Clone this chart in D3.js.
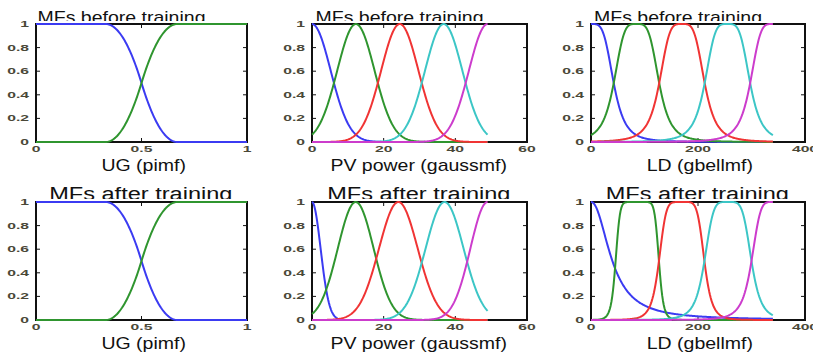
<!DOCTYPE html>
<html>
<head>
<meta charset="utf-8">
<script src="https://cdn.jsdelivr.net/npm/d3@7"></script>
<style>
  html, body { margin: 0; padding: 0; background: #fff; }
  svg { display: block; }
</style>
</head>
<body>
<svg id="chart" width="813" height="356"></svg>
<script>
// ---- chart data ----------------------------------------------------------
const mfColors = ["#3b3bf2", "#2f952f", "#f03434", "#3cc6c6", "#cc3ccc"];

const yTicks = [0, 0.2, 0.4, 0.6, 0.8, 1];
const yTickLabels = ["0", "0.2", "0.4", "0.6", "0.8", "1"];

const rowTitles = ["MFs before training", "MFs after training"];
const inputLabels = ["UG (pimf)", "PV power (gaussmf)", "LD (gbellmf)"];

// UG input: pimf [a b c d]
const ugAxis = [0, 1];
const ugRange = [0, 1];
const ugTicks = [0, 0.5, 1];
const ugTickLabels = ["0", "0.5", "1"];
const ugBefore = [[-0.67, -0.33, 0.33, 0.67], [0.33, 0.67, 1.33, 1.67]];
const ugAfter = [[-0.67, -0.33, 0.33, 0.67], [0.33, 0.67, 1.33, 1.67]];

// PV power input: gaussmf [sigma center]
const pvAxis = [0, 60];
const pvRange = [0, 49];
const pvTicks = [0, 20, 40, 60];
const pvTickLabels = ["0", "20", "40", "60"];
const pvBefore = [[5.2, 0], [5.2, 12.25], [5.2, 24.5], [5.2, 36.75], [5.2, 49]];
const pvAfter = [[2.4, 0], [5.0, 12.2], [5.4, 24.1], [5.3, 37.0], [4.8, 49]];

// LD input: gbellmf [a b c]
const ldAxis = [0, 400];
const ldRange = [0, 340];
const ldTicks = [0, 200, 400];
const ldTickLabels = ["0", "200", "400"];
const ldBefore = [[42.5, 2, 0], [42.5, 2, 85], [42.5, 2, 170], [42.5, 2, 255], [42.5, 2, 340]];
const ldAfter = [[40, 1.07, 0], [40.5, 4.8, 86.5], [42.5, 3, 169.5], [44, 2.45, 256], [40, 2.2, 340]];

// ---- membership functions ------------------------------------------------
function smf(x, a, b) {
  if (x <= a) return 0;
  if (x >= b) return 1;
  const m = (a + b) / 2;
  return x <= m ? 2 * Math.pow((x - a) / (b - a), 2) : 1 - 2 * Math.pow((x - b) / (b - a), 2);
}
function zmf(x, c, d) { return 1 - smf(x, c, d); }
const pimf = (x, p) => smf(x, p[0], p[1]) * zmf(x, p[2], p[3]);
const gaussmf = (x, p) => Math.exp(-Math.pow(x - p[1], 2) / (2 * p[0] * p[0]));
const gbellmf = (x, p) => 1 / (1 + Math.pow(Math.abs((x - p[2]) / p[0]), 2 * p[1]));

// ---- layout --------------------------------------------------------------
const cols = [
  { x0: 36, x1: 247, axis: ugAxis, range: ugRange, ticks: ugTicks, tickLabels: ugTickLabels,
    mf: pimf, sets: [ugBefore, ugAfter], labelX: 143.7 },
  { x0: 312, x1: 527, axis: pvAxis, range: pvRange, ticks: pvTicks, tickLabels: pvTickLabels,
    mf: gaussmf, sets: [pvBefore, pvAfter], labelX: 418.7 },
  { x0: 591, x1: 805, axis: ldAxis, range: ldRange, ticks: ldTicks, tickLabels: ldTickLabels,
    mf: gbellmf, sets: [ldBefore, ldAfter], labelX: 699.8 }
];
const rows = [
  { y0: 24, y1: 142, titleBase: 23.2, titleClip: 21, titleSize: 16, titleScale: 1.22, titleShift: -20 },
  { y0: 202, y1: 320, titleBase: 200, titleClip: 199, titleSize: 19, titleScale: 1.24, titleShift: -0.7 }
];

const svg = d3.select("#chart");
const font = "'Liberation Sans', Arial, Helvetica, sans-serif";
const tickColor = "#4a4838";
const tickLen = 4;

rows.forEach((row, ri) => {
  const clipId = "titleclip" + ri;
  svg.append("clipPath").attr("id", clipId)
    .append("rect").attr("x", 0).attr("y", row.y0 - 40).attr("width", 813).attr("height", row.titleClip - (row.y0 - 40));

  cols.forEach((col, ci) => {
    const x = d3.scaleLinear().domain(col.axis).range([col.x0, col.x1]);
    const y = d3.scaleLinear().domain([0, 1]).range([row.y1, row.y0]);
    const g = svg.append("g");

    // title (bottom edge hidden behind the axes band)
    const cx = (col.x0 + col.x1) / 2 + row.titleShift;
    g.append("text")
      .attr("clip-path", `url(#${clipId})`)
      .append("tspan")
      .attr("transform", null);
    g.select("text").remove();
    g.append("g").attr("clip-path", `url(#${clipId})`)
      .append("text")
      .attr("transform", `translate(${cx},${row.titleBase}) scale(${row.titleScale},1)`)
      .attr("text-anchor", "middle")
      .attr("font-family", font)
      .attr("font-size", row.titleSize)
      .attr("fill", "#111")
      .text(rowTitles[ri]);

    // axes box
    g.append("rect")
      .attr("x", col.x0).attr("y", row.y0)
      .attr("width", col.x1 - col.x0).attr("height", row.y1 - row.y0)
      .attr("fill", "#fff").attr("stroke", "#111").attr("stroke-width", 2);

    // inward ticks on all four sides
    yTicks.forEach(t => {
      const yy = y(t);
      g.append("line").attr("x1", col.x0).attr("x2", col.x0 + tickLen).attr("y1", yy).attr("y2", yy)
        .attr("stroke", "#111").attr("stroke-width", 1);
      g.append("line").attr("x1", col.x1).attr("x2", col.x1 - tickLen).attr("y1", yy).attr("y2", yy)
        .attr("stroke", "#111").attr("stroke-width", 1);
    });
    col.ticks.forEach(t => {
      const xx = x(t);
      g.append("line").attr("x1", xx).attr("x2", xx).attr("y1", row.y1).attr("y2", row.y1 - tickLen)
        .attr("stroke", "#111").attr("stroke-width", 1);
      g.append("line").attr("x1", xx).attr("x2", xx).attr("y1", row.y0).attr("y2", row.y0 + tickLen)
        .attr("stroke", "#111").attr("stroke-width", 1);
    });

    // y tick labels
    yTicks.forEach((t, i) => {
      g.append("text")
        .attr("transform", `translate(${col.x0 - 7},${y(t) + 3}) scale(1.85,1)`)
        .attr("text-anchor", "end")
        .attr("font-family", font).attr("font-weight", "bold").attr("font-size", 8.5)
        .attr("fill", tickColor)
        .text(yTickLabels[i]);
    });
    // x tick labels
    col.ticks.forEach((t, i) => {
      g.append("text")
        .attr("transform", `translate(${x(t)},${row.y1 + 10.2}) scale(1.85,1)`)
        .attr("text-anchor", "middle")
        .attr("font-family", font).attr("font-weight", "bold").attr("font-size", 8.5)
        .attr("fill", tickColor)
        .text(col.tickLabels[i]);
    });

    // membership function curves
    const n = 240;
    const xs = d3.range(n + 1).map(i => col.range[0] + (col.range[1] - col.range[0]) * i / n);
    const line = d3.line().x(d => x(d[0])).y(d => y(d[1]));
    col.sets[ri].forEach((p, k) => {
      const pts = xs.map(v => [v, col.mf(v, p)]);
      g.append("path")
        .attr("d", line(pts))
        .attr("fill", "none")
        .attr("stroke", mfColors[k])
        .attr("stroke-width", 2)
        .attr("stroke-linejoin", "round");
    });

    // input label
    g.append("text")
      .attr("transform", `translate(${col.labelX},${row.y1 + 28.5}) scale(1.22,1)`)
      .attr("text-anchor", "middle")
      .attr("font-family", font).attr("font-size", 16)
      .attr("fill", "#111")
      .text(inputLabels[ci]);
  });
});
</script>
</body>
</html>
